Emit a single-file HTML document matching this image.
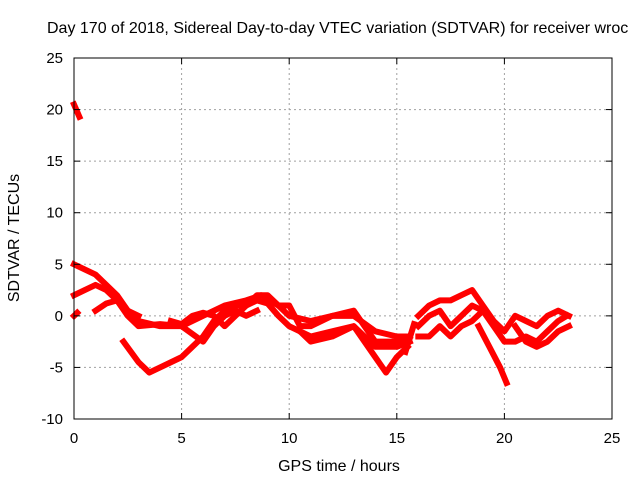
<!DOCTYPE html>
<html><head><meta charset="utf-8"><style>
body{margin:0;background:#fff}
svg{display:block;font-family:"Liberation Sans",sans-serif}
</style></head><body>
<svg id="chart" width="640" height="480" viewBox="0 0 640 480">
<text x="47" y="33" font-size="16" fill="#000">Day 170 of 2018, Sidereal Day-to-day VTEC variation (SDTVAR) for receiver wroc</text>
<g id="grid"></g>
<g id="series"></g>
<rect x="74" y="58" width="538" height="361" fill="none" stroke="#000" stroke-width="1"/>
<g id="ticks"></g>
<text x="339" y="471" font-size="16" text-anchor="middle">GPS time / hours</text>
<text transform="translate(19,238) rotate(-90)" font-size="16" text-anchor="middle">SDTVAR / TECUs</text>
</svg>
<script>
const xTicks=[0,5,10,15,20,25];
const yTicks=[-10,-5,0,5,10,15,20,25];
const trace1=[[0,5],[1,4],[2,2],[2.5,0.5],[3,-0.5],[4,-1],[5,-1],[6,0],[7,1],[8,1.5],[8.7,2],[9.5,1],[10,0],[11,-0.5],[12,0],[13,0],[14,-1.5],[15,-2],[15.6,-2]];
const trace2=[[0,2],[0.5,2.5],[1,3],[1.5,2.5],[2,1.5],[2.5,0],[3,-1],[4,-0.8],[5,-1],[6,-2.5],[6.5,-1],[7,0],[7.5,0.5],[8,0],[8.5,0.5]];
const trace3=[[2.3,-2.5],[3,-4.5],[3.5,-5.5],[4,-5],[5,-4],[5.5,-3],[6,-2],[6.5,-0.5],[7,0.5],[7.5,1],[8,1],[8.5,1.5],[9,1.2],[9.5,0],[10,-1],[11,-2],[12,-1.5],[13,-1],[14,-4],[14.5,-5.5],[15,-4],[15.5,-3]];
const trace4=[[1,0.5],[1.5,1.2],[2,1.5],[2.5,0.5],[3,0]];
const trace5=[[4.5,-0.5],[5,-0.8],[5.5,0],[6,0.3],[6.5,0],[7,-1],[7.5,0],[8,1],[8.5,2],[9,2],[9.5,1],[10,1],[10.5,-1],[11,-1],[12,0],[13,0.5],[13.5,-1],[14,-2.5],[15,-2.5],[15.6,-2]];
const trace6=[[16,-1],[16.5,0],[17,0.5],[17.5,-1],[18,0],[18.5,1],[19,0.5],[19.5,-1],[20,-2.5],[20.5,-2.5],[21,-2],[21.5,-2.5],[22,-1.5],[22.5,-0.5],[22.9,0]];
const trace7=[[16,0],[16.5,1],[17,1.5],[17.5,1.5],[18,2],[18.5,2.5],[19,1],[19.5,-0.5],[20,-1.5],[20.5,0],[21,-0.5],[21.5,-1],[22,0],[22.5,0.5],[23,0]];
const trace8=[[18.8,-1],[19.3,-3],[19.8,-5],[20.1,-6.5]];
const trace9=[[16,-2],[16.5,-2],[17,-1],[17.5,-2],[18,-1],[18.5,-0.5],[19,0.5]];
const trace10=[[0,20.5],[0.25,19.3]];
const trace11=[[0,0],[0.15,0.3]];
const trace12=[[10.5,-1.5],[11,-2.5],[12,-2],[13,-1],[13.5,-2],[14,-3],[15,-3],[15.6,-2.5]];
const trace13=[[20.5,-1],[21,-2.5],[21.5,-3],[22,-2.5],[22.5,-1.5],[23,-1]];
const trace14=[[15.8,-0.8],[15.4,-3.5]];
const traces=[trace1,trace2,trace3,trace4,trace5,trace6,trace7,trace8,trace9,trace10,trace11,trace12,trace13,trace14];

const X0=74,X1=612,Y0=419,Y1=58;
const sx=v=>X0+(v-0)/(25-0)*(X1-X0);
const sy=v=>Y0-(v+10)/(35)*(Y0-Y1);
const NS="http://www.w3.org/2000/svg";
const grid=document.getElementById('grid'),ticks=document.getElementById('ticks'),ser=document.getElementById('series');
function mk(tag,attrs,parent){const e=document.createElementNS(NS,tag);for(const k in attrs)e.setAttribute(k,attrs[k]);parent.appendChild(e);return e;}
xTicks.forEach(t=>{
  const x=sx(t);
  if(t>0&&t<25){const g=mk('line',{x1:x,x2:x,y1:Y1,y2:Y0,stroke:'#a0a0a0','stroke-dasharray':'2,3'},grid);
  
  }
  mk('line',{x1:x,x2:x,y1:Y0,y2:Y0-6,stroke:'#000'},ticks);
  mk('line',{x1:x,x2:x,y1:Y1,y2:Y1+6,stroke:'#000'},ticks);
  const l=mk('text',{x:x,y:443,'font-size':15,'text-anchor':'middle'},ticks);l.textContent=t;
  
  
});
yTicks.forEach(t=>{
  const y=sy(t);
  if(t>-10&&t<25){const g=mk('line',{x1:X0,x2:X1,y1:y,y2:y,stroke:'#a0a0a0','stroke-dasharray':'2,3'},grid);
  
  }
  mk('line',{x1:X0,x2:X0+6,y1:y,y2:y,stroke:'#000'},ticks);
  mk('line',{x1:X1,x2:X1-6,y1:y,y2:y,stroke:'#000'},ticks);
  const l=mk('text',{x:63,y:y+5,'font-size':15,'text-anchor':'end'},ticks);l.textContent=t;
  
  
});
traces.forEach(tr=>{
  const p=mk('polyline',{points:tr.map(d=>sx(d[0])+','+sy(d[1])).join(' '),fill:'none',stroke:'#ff0000','stroke-width':6,'stroke-linejoin':'round','stroke-linecap':'square'},ser);
  
  
});
</script>
</body></html>
